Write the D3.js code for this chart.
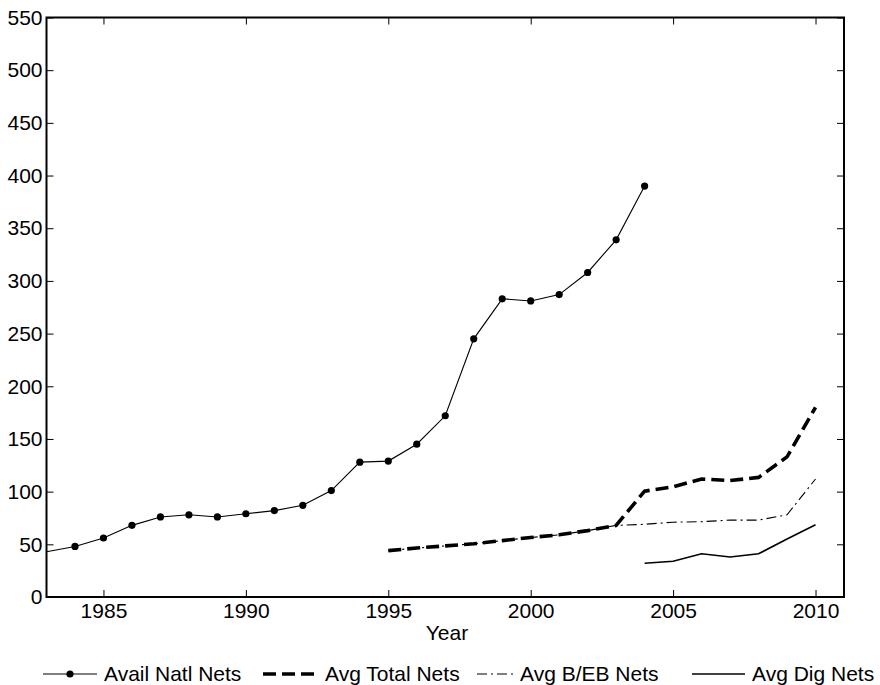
<!DOCTYPE html>
<html><head><meta charset="utf-8">
<script src="https://cdn.jsdelivr.net/npm/d3@7"></script>
<style>body{margin:0;background:#fff}svg{display:block}text{font-family:"Liberation Sans",Arial,Helvetica,sans-serif;fill:#000}</style>
</head><body>
<script>
const availYears = [1983,1984,1985,1986,1987,1988,1989,1990,1991,1992,1993,1994,1995,1996,1997,1998,1999,2000,2001,2002,2003,2004];
const availNatl = [43,48,56,68,76,78,76,79,82,87,101,128,129,145,172,245,283,281,287,308,339,390];
const avgYears = [1995,1996,1997,1998,1999,2000,2001,2002,2003,2004,2005,2006,2007,2008,2009,2010];
const avgTotal = [44,46.5,48.5,50.5,53.5,56.5,59,63,68,100.5,104.5,112,110.5,113.5,133,180];
const avgBEB = [44,46.5,48.5,50.5,53.5,56.5,59,63,68,69,71,71.5,73,73,78,112];
const digYears = [2004,2005,2006,2007,2008,2009,2010];
const avgDig = [32,34,41,38,41,55,68.5];
const xTicks = [1985,1990,1995,2000,2005,2010];
const yTicks = [0,50,100,150,200,250,300,350,400,450,500,550];
const legendLabels = ["Avail Natl Nets","Avg Total Nets","Avg B/EB Nets","Avg Dig Nets"];

const W=880,H=685;
const L=46.5,R=844,T=17.5,B=597;
const FS="21px";
const svg=d3.select("body").append("svg").attr("width",W).attr("height",H);
const x=d3.scaleLinear().domain([1983,2011]).range([L,R]);
const y=d3.scaleLinear().domain([0,550]).range([B,T]);

svg.append("defs").append("clipPath").attr("id","clip").append("rect")
  .attr("x",L).attr("y",T).attr("width",R-L).attr("height",B-T);
const g=svg.append("g").attr("clip-path","url(#clip)");

const line=(xs,ys)=>d3.line().x((d,i)=>x(xs[i])).y(d=>y(d))(ys);

const styles=[
  {w:1.1,dash:null},
  {w:3.6,dash:"13,6"},
  {w:1.1,dash:"10,4,2,4"},
  {w:1.6,dash:null}
];
g.append("path").attr("d",line(avgYears,avgTotal)).attr("fill","none").attr("stroke","#000").attr("stroke-width",styles[1].w).attr("stroke-dasharray",styles[1].dash);
g.append("path").attr("d",line(avgYears,avgBEB)).attr("fill","none").attr("stroke","#000").attr("stroke-width",styles[2].w).attr("stroke-dasharray",styles[2].dash);
g.append("path").attr("d",line(digYears,avgDig)).attr("fill","none").attr("stroke","#000").attr("stroke-width",styles[3].w);
g.append("path").attr("d",line(availYears,availNatl)).attr("fill","none").attr("stroke","#000").attr("stroke-width",styles[0].w);
g.selectAll("circle.m").data(availNatl.map((v,i)=>[availYears[i],v]).filter(d=>d[0]>1983)).enter()
  .append("circle").attr("cx",d=>x(d[0])).attr("cy",d=>y(d[1])).attr("r",3.6).attr("fill","#000");

// axes with inward ticks
const tk=7;
const ax=svg.append("g").attr("transform",`translate(0,${B})`).call(d3.axisBottom(x).tickValues(xTicks).tickFormat(d3.format("d")).tickSize(-tk).tickPadding(6));
const axT=svg.append("g").attr("transform",`translate(0,${T})`).call(d3.axisTop(x).tickValues(xTicks).tickSize(-tk).tickFormat(""));
const ay=svg.append("g").attr("transform",`translate(${L},0)`).call(d3.axisLeft(y).tickValues(yTicks).tickSize(-tk).tickPadding(4));
const ayR=svg.append("g").attr("transform",`translate(${R},0)`).call(d3.axisRight(y).tickValues(yTicks).tickSize(-tk).tickFormat(""));
[ax,axT,ay,ayR].forEach(a=>{a.select(".domain").remove();a.selectAll("line").attr("stroke","#000").attr("stroke-width",1);a.selectAll("text").style("font-size",FS).attr("fill","#000");});
svg.append("rect").attr("x",L).attr("y",T).attr("width",R-L).attr("height",B-T).attr("fill","none").attr("stroke","#000").attr("stroke-width",2);

svg.append("text").attr("x",447).attr("y",640).attr("text-anchor","middle").style("font-size",FS).text("Year");

// legend
const ly=674;
const leg=[{x0:43,x1:97,tx:104},{x0:263,x1:316,tx:325},{x0:477,x1:515,tx:520},{x0:692,x1:745,tx:752}];
leg.forEach((l,i)=>{
  const p=svg.append("line").attr("x1",l.x0).attr("x2",l.x1).attr("y1",ly).attr("y2",ly).attr("stroke","#000").attr("stroke-width",styles[i].w);
  if(styles[i].dash) p.attr("stroke-dasharray",styles[i].dash);
  if(i===0) svg.append("circle").attr("cx",(l.x0+l.x1)/2).attr("cy",ly).attr("r",3.6).attr("fill","#000");
  svg.append("text").attr("x",l.tx).attr("y",ly+7).style("font-size",FS).text(legendLabels[i]);
});
</script>
</body></html>
